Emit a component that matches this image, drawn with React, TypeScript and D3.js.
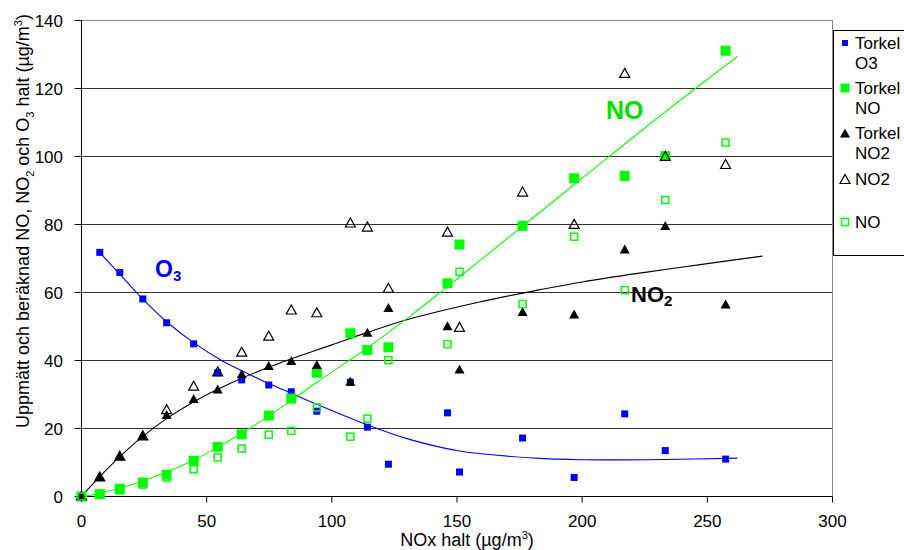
import React from "react";
import * as d3 from "d3";

// NOx values shared by all measured series
const nox = [0, 7.3, 15.3, 24.5, 34, 44.8, 54.4, 64, 74.8, 83.8, 94, 107.4, 114.2, 122.6, 146.2, 151, 176.2, 196.8, 217, 233.2, 257.3];

const torkelO3 = [null, 71.8, 65.9, 58.1, 51.1, 44.9, 36.4, 34.3, 32.8, 30.8, 25.1, 33.6, 20.4, 9.5, 24.6, 7.2, 17.2, 5.6, 24.3, 13.5, 11.0];
const torkelNO = [0, 0.7, 2.3, 4.1, 6.4, 10.5, 14.6, 18.3, 23.8, 28.8, 36.4, 48.0, 43.1, 43.9, 62.7, 74.1, 79.6, 93.6, 94.3, 100.1, 131.1];
const torkelNO2 = [0, 5.6, 11.7, 17.7, 23.8, 28.5, 31.3, 35.8, 38.2, 39.7, 38.5, 33.6, 48.0, 55.3, 49.9, 37.2, 54.1, 53.4, 72.5, 79.4, 56.3];
const measNO2 = [0, 5.6, 11.7, 17.7, 25.4, 32.3, 36.5, 42.3, 47.0, 54.7, 53.9, 80.3, 79.1, 61.1, 77.6, 49.6, 89.4, 79.9, 124.3, 99.9, 97.5];
const measNO = [0, 0.6, 1.8, 3.5, 5.6, 8.0, 11.5, 14.1, 18.2, 19.3, 26.2, 17.6, 22.9, 40.1, 44.8, 66.1, 56.6, 76.4, 60.7, 87.2, 104.1];

// fitted curves
const fitO3X = [7, 15, 24, 34, 44.5, 56, 64, 74.5, 83, 94, 114, 131, 151, 183, 200, 233, 262];
const fitO3Y = [72, 65.6, 58.4, 51.4, 45.4, 40, 37, 33.3, 30.6, 27.1, 21.1, 16.8, 13.4, 11.2, 10.8, 10.9, 11.3];
const fitNO2X = [0, 7, 15, 24, 34, 44, 54, 64, 79, 100, 114, 131, 159, 183, 200, 223, 250, 272];
const fitNO2Y = [0, 5.6, 11.5, 17.4, 22.9, 27.5, 31.4, 34.8, 39.2, 44.6, 48.2, 52.2, 57.2, 60.8, 63.1, 65.7, 68.5, 70.7];
const fitNOX = [0, 7, 15, 24, 34, 44.5, 54, 64, 74.5, 83, 94, 114, 131, 146, 159, 176, 200, 233, 262];
const fitNOY = [0, 0.9, 2.4, 4.4, 7.2, 10.6, 14.3, 18.6, 23.5, 27.8, 33.6, 43.6, 52.9, 61.6, 69.3, 79.4, 93.6, 113, 129.4];

const xTicks = [0, 50, 100, 150, 200, 250, 300];
const yTicks = [0, 20, 40, 60, 80, 100, 120, 140];

const BLUE = "#0000ff";
const GREEN = "#00ff00";
const FONT = "'Liberation Sans', Arial, sans-serif";

const x = d3.scaleLinear().domain([0, 300]).range([81.5, 832.5]);
const y = d3.scaleLinear().domain([0, 140]).range([496.5, 20.5]);

const tri = "M0,-5.5L5,3.5L-5,3.5Z";

function pts(ys: (number | null)[]) {
  return nox
    .map((v, i) => ({ x: v, y: ys[i] }))
    .filter((d) => d.y !== null) as { x: number; y: number }[];
}

function fitPath(xs: number[], ys: number[]) {
  const line = d3
    .line<number>()
    .x((d) => x(d))
    .y((_, i) => y(ys[i]))
    .curve(d3.curveCatmullRom.alpha(0.5));
  return line(xs) || "";
}

export default function App() {
  return (
    <svg
      width={904}
      height={550}
      style={{ position: "absolute", left: 0, top: 0, background: "#fff" }}
      fontFamily={FONT}
    >
      {/* grid */}
      {yTicks.map((t) => (
        <line key={t} x1={x(0)} x2={x(300)} y1={y(t)} y2={y(t)} stroke="#333" strokeWidth={1} />
      ))}
      <line x1={x(300)} x2={x(300)} y1={y(140)} y2={y(0)} stroke="#888" />
      <line x1={x(0)} x2={x(300)} y1={y(140)} y2={y(140)} stroke="#888" />
      {/* axes */}
      <line x1={x(0)} x2={x(0)} y1={y(140)} y2={y(0)} stroke="#000" />
      <line x1={x(0)} x2={x(300)} y1={y(0)} y2={y(0)} stroke="#000" />
      {yTicks.map((t) => (
        <g key={t}>
          <line x1={x(0) - 7} x2={x(0)} y1={y(t)} y2={y(t)} stroke="#000" />
          <text x={63} y={y(t)} dy="0.36em" textAnchor="end" fontSize={17}>
            {t}
          </text>
        </g>
      ))}
      {xTicks.map((t) => (
        <g key={t}>
          <line x1={x(t)} x2={x(t)} y1={y(0)} y2={y(0) + 6} stroke="#000" />
          <text x={x(t)} y={527} textAnchor="middle" fontSize={17}>
            {t}
          </text>
        </g>
      ))}
      <text x={467} y={546} textAnchor="middle" fontSize={18}>
        NOx halt (µg/m<tspan dy={-7} fontSize={11}>3</tspan>
        <tspan dy={7}>)</tspan>
      </text>
      <text transform="translate(29,221) rotate(-90)" textAnchor="middle" fontSize={18}>
        Uppmätt och beräknad NO, NO<tspan dy={5} fontSize={11}>2</tspan>
        <tspan dy={-5}> och O</tspan>
        <tspan dy={5} fontSize={11}>3</tspan>
        <tspan dy={-5}> halt (µg/m</tspan>
        <tspan dy={-7} fontSize={11}>3</tspan>
        <tspan dy={7}>)</tspan>
      </text>

      {/* fitted curves */}
      <path d={fitPath(fitO3X, fitO3Y)} fill="none" stroke={BLUE} strokeWidth={1.1} />
      <path d={fitPath(fitNO2X, fitNO2Y)} fill="none" stroke="#000" strokeWidth={1.1} />
      <path d={fitPath(fitNOX, fitNOY)} fill="none" stroke={GREEN} strokeWidth={1.1} />

      {/* series */}
      {pts(torkelO3).map((d, i) => (
        <rect key={"o3" + i} x={x(d.x) - 3.5} y={y(d.y) - 3.5} width={7} height={7} fill={BLUE} />
      ))}
      {pts(torkelNO).map((d, i) => (
        <rect key={"no" + i} x={x(d.x) - 5} y={y(d.y) - 5} width={10} height={10} fill={GREEN} />
      ))}
      {pts(torkelNO2).map((d, i) => (
        <path key={"no2" + i} d={tri} transform={`translate(${x(d.x)},${y(d.y)})`} fill="#000" />
      ))}
      {pts(measNO2).map((d, i) => (
        <path key={"mno2" + i} d={tri} transform={`translate(${x(d.x)},${y(d.y)})`} fill="none" stroke="#000" strokeWidth={1.2} />
      ))}
      {pts(measNO).map((d, i) => (
        <rect key={"mno" + i} x={x(d.x) - 3.5} y={y(d.y) - 3.5} width={7} height={7} fill="none" stroke={GREEN} strokeWidth={1.5} />
      ))}

      {/* in-plot labels */}
      <text x={155} y={277} fontSize={23} fontWeight="bold" fill={BLUE}>
        O<tspan dy={4} fontSize={15}>3</tspan>
      </text>
      <text x={606} y={119} fontSize={25} fontWeight="bold" fill="#00e000">
        NO
      </text>
      <text x={631} y={302} fontSize={22} fontWeight="bold" fill="#000">
        NO<tspan dy={4} fontSize={15}>2</tspan>
      </text>

      {/* legend */}
      <rect x={833.5} y={30.5} width={80} height={225} fill="#fff" stroke="#000" />
      <g fontSize={17}>
        <rect x={842} y={40} width={6} height={6} fill={BLUE} />
        <text x={855} y={49}>Torkel</text>
        <text x={855} y={69}>O3</text>
        <rect x={840.5} y={83.5} width={9} height={9} fill={GREEN} />
        <text x={855} y={94}>Torkel</text>
        <text x={855} y={114}>NO</text>
        <path d={tri} transform="translate(845,134)" fill="#000" />
        <text x={855} y={139}>Torkel</text>
        <text x={855} y={159}>NO2</text>
        <path d={tri} transform="translate(845,180)" fill="none" stroke="#000" strokeWidth={1.2} />
        <text x={855} y={185}>NO2</text>
        <rect x={841.5} y={218.5} width={7} height={7} fill="none" stroke={GREEN} strokeWidth={1.5} />
        <text x={855} y={228}>NO</text>
      </g>
    </svg>
  );
}
